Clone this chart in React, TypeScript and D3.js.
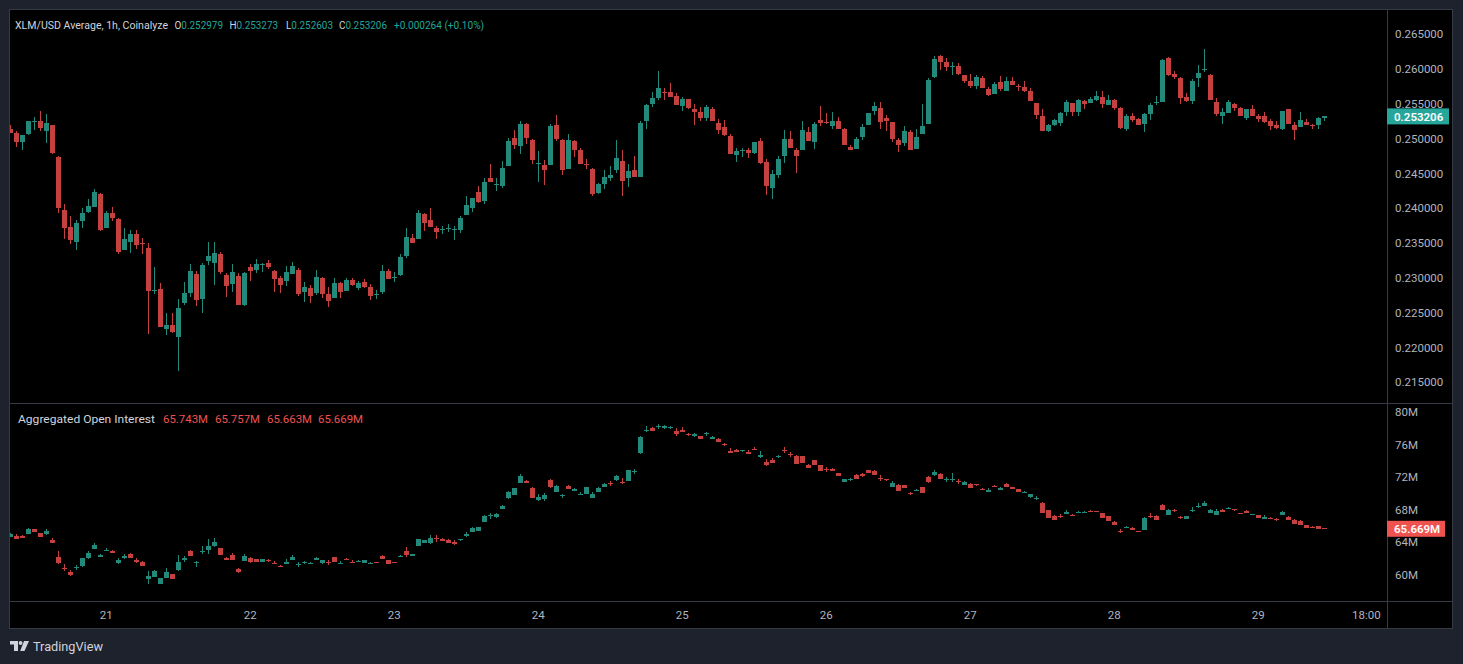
import * as d3 from 'd3';

// XLM/USD 1h candles, 20th 08:00 -> 29th 11:00 (one row = 10 hours)
const priceOpen = [
  0.25139, 0.25080, 0.24950, 0.25067, 0.25250, 0.25250, 0.25110, 0.25197, 0.24737, 0.23975,
  0.23730, 0.23515, 0.23817, 0.23947, 0.24019, 0.24205, 0.23717, 0.23930, 0.23846, 0.23400,
  0.23515, 0.23630, 0.23506, 0.23429, 0.22820, 0.22840, 0.22265, 0.22323, 0.22150, 0.22639,
  0.22780, 0.23056, 0.22696, 0.23242, 0.23214, 0.23343, 0.23041, 0.22912, 0.23027, 0.22610,
  0.23156, 0.23113, 0.23194, 0.23214, 0.23099, 0.22998, 0.22955, 0.23056, 0.23113, 0.22797,
  0.22854, 0.22783, 0.22998, 0.22768, 0.22711, 0.22926, 0.22812, 0.22970, 0.22855, 0.22940,
  0.22869, 0.22764, 0.22797, 0.23099, 0.23010, 0.23042, 0.23315, 0.23573, 0.23559, 0.23918,
  0.23832, 0.23717, 0.23693, 0.23712, 0.23698, 0.23688, 0.23904, 0.24004, 0.24234, 0.24105,
  0.24435, 0.24344, 0.24320, 0.24608, 0.25010, 0.24895, 0.25211, 0.24981, 0.24641, 0.24622,
  0.24622, 0.25197, 0.24981, 0.24565, 0.24967, 0.24838, 0.24641, 0.24565, 0.24220, 0.24349,
  0.24435, 0.24550, 0.24680, 0.24435, 0.24550, 0.24450, 0.25254, 0.25499, 0.25585, 0.25671,
  0.25671, 0.25613, 0.25470, 0.25570, 0.25426, 0.25383, 0.25297, 0.25426, 0.25225, 0.25168,
  0.25039, 0.24766, 0.24833, 0.24837, 0.24794, 0.24967, 0.24665, 0.24291, 0.24478, 0.24751,
  0.24995, 0.24837, 0.24837, 0.25096, 0.24952, 0.25268, 0.25244, 0.25182, 0.25254, 0.25139,
  0.24880, 0.24852, 0.25024, 0.25197, 0.25398, 0.25441, 0.25297, 0.25240, 0.24981, 0.24938,
  0.25096, 0.24852, 0.25067, 0.25210, 0.25886, 0.26188, 0.26102, 0.26040, 0.26044, 0.25915,
  0.25829, 0.25757, 0.25872, 0.25714, 0.25642, 0.25814, 0.25685, 0.25829, 0.25762, 0.25743,
  0.25685, 0.25513, 0.25326, 0.25110, 0.25197, 0.25225, 0.25383, 0.25513, 0.25383, 0.25541,
  0.25513, 0.25556, 0.25599, 0.25484, 0.25556, 0.25441, 0.25139, 0.25326, 0.25283, 0.25210,
  0.25355, 0.25522, 0.25527, 0.26159, 0.25929, 0.25872, 0.25599, 0.25541, 0.25872, 0.25977,
  0.25915, 0.25527, 0.25326, 0.25369, 0.25498, 0.25441, 0.25297, 0.25426, 0.25326, 0.25326,
  0.25254, 0.25197, 0.25139, 0.25426, 0.25197, 0.25168, 0.25240, 0.25201, 0.25197, 0.252979,
];
const priceHigh = [
  0.25197, 0.25111, 0.25050, 0.25250, 0.25312, 0.25398, 0.25355, 0.25200, 0.24751, 0.24062,
  0.23890, 0.23832, 0.24004, 0.24133, 0.24277, 0.24220, 0.23960, 0.24019, 0.23860, 0.23717,
  0.23688, 0.23688, 0.23573, 0.23501, 0.23156, 0.22926, 0.22495, 0.22495, 0.22696, 0.22941,
  0.23199, 0.23100, 0.23214, 0.23515, 0.23515, 0.23372, 0.23070, 0.23199, 0.23070, 0.23084,
  0.23199, 0.23271, 0.23214, 0.23257, 0.23113, 0.23027, 0.23170, 0.23228, 0.23142, 0.22941,
  0.22898, 0.23113, 0.23013, 0.22869, 0.22998, 0.22940, 0.22998, 0.22998, 0.22955, 0.22984,
  0.22912, 0.22826, 0.23185, 0.23128, 0.23085, 0.23343, 0.23717, 0.23631, 0.23976, 0.23928,
  0.24004, 0.23746, 0.23746, 0.23774, 0.23746, 0.23889, 0.24177, 0.24148, 0.24320, 0.24435,
  0.24637, 0.24435, 0.24680, 0.25010, 0.25125, 0.25254, 0.25226, 0.24996, 0.24823, 0.24694,
  0.25211, 0.25341, 0.24996, 0.25068, 0.24981, 0.24866, 0.24708, 0.24580, 0.24364, 0.24550,
  0.24608, 0.24981, 0.24838, 0.24637, 0.24751, 0.25254, 0.25499, 0.25671, 0.25973, 0.25729,
  0.25800, 0.25656, 0.25599, 0.25570, 0.25498, 0.25455, 0.25484, 0.25455, 0.25283, 0.25268,
  0.25067, 0.24866, 0.24866, 0.24866, 0.24952, 0.25010, 0.24708, 0.24550, 0.24751, 0.25125,
  0.25110, 0.24866, 0.25254, 0.25168, 0.25240, 0.25470, 0.25369, 0.25383, 0.25311, 0.25153,
  0.24909, 0.25024, 0.25211, 0.25369, 0.25527, 0.25527, 0.25340, 0.25240, 0.25010, 0.25182,
  0.25125, 0.25139, 0.25498, 0.25872, 0.26188, 0.26202, 0.26159, 0.26102, 0.26087, 0.25915,
  0.25929, 0.25915, 0.25901, 0.25743, 0.25814, 0.25901, 0.25886, 0.25886, 0.25786, 0.25829,
  0.25728, 0.25513, 0.25426, 0.25211, 0.25283, 0.25383, 0.25556, 0.25513, 0.25570, 0.25556,
  0.25599, 0.25685, 0.25685, 0.25628, 0.25570, 0.25455, 0.25355, 0.25369, 0.25297, 0.25369,
  0.25513, 0.25613, 0.26145, 0.26174, 0.25973, 0.25886, 0.25656, 0.25858, 0.26059, 0.26290,
  0.25929, 0.25585, 0.25441, 0.25556, 0.25513, 0.25455, 0.25426, 0.25484, 0.25355, 0.25383,
  0.25283, 0.25254, 0.25398, 0.25426, 0.25240, 0.25383, 0.25283, 0.25210, 0.25311, 0.253273,
];
const priceLow = [
  0.25082, 0.24880, 0.24837, 0.25050, 0.25125, 0.25111, 0.24938, 0.24780, 0.23932, 0.23559,
  0.23487, 0.23401, 0.23717, 0.23932, 0.24019, 0.23674, 0.23717, 0.23817, 0.23343, 0.23400,
  0.23357, 0.23415, 0.23343, 0.22193, 0.22768, 0.22294, 0.22179, 0.22208, 0.21662, 0.22610,
  0.22725, 0.22596, 0.22495, 0.23185, 0.22898, 0.23056, 0.22725, 0.22797, 0.22610, 0.22596,
  0.22955, 0.23070, 0.23084, 0.23127, 0.22797, 0.22783, 0.22883, 0.23056, 0.22739, 0.22653,
  0.22639, 0.22754, 0.22711, 0.22581, 0.22711, 0.22710, 0.22810, 0.22883, 0.22826, 0.22855,
  0.22682, 0.22697, 0.22768, 0.22984, 0.22940, 0.23027, 0.23286, 0.23501, 0.23559, 0.23674,
  0.23731, 0.23559, 0.23631, 0.23659, 0.23544, 0.23645, 0.23904, 0.23947, 0.24076, 0.24062,
  0.24378, 0.24249, 0.24292, 0.24608, 0.24852, 0.24780, 0.24924, 0.24637, 0.24378, 0.24335,
  0.24622, 0.24967, 0.24478, 0.24565, 0.24737, 0.24637, 0.24565, 0.24177, 0.24205, 0.24277,
  0.24392, 0.24507, 0.24177, 0.24306, 0.24450, 0.24450, 0.25139, 0.25456, 0.25556, 0.25556,
  0.25599, 0.25484, 0.25398, 0.25426, 0.25197, 0.25254, 0.25254, 0.25254, 0.25067, 0.25039,
  0.24780, 0.24665, 0.24737, 0.24722, 0.24780, 0.24636, 0.24191, 0.24133, 0.24435, 0.24651,
  0.24866, 0.24507, 0.24837, 0.24967, 0.24852, 0.25182, 0.25210, 0.25139, 0.25139, 0.24909,
  0.24837, 0.24852, 0.24981, 0.25197, 0.25340, 0.25139, 0.25110, 0.24952, 0.24809, 0.24895,
  0.24837, 0.24852, 0.25067, 0.25210, 0.25872, 0.25987, 0.25973, 0.25915, 0.25915, 0.25800,
  0.25728, 0.25714, 0.25728, 0.25613, 0.25642, 0.25685, 0.25685, 0.25771, 0.25685, 0.25671,
  0.25541, 0.25283, 0.25110, 0.25096, 0.25182, 0.25182, 0.25326, 0.25326, 0.25326, 0.25426,
  0.25513, 0.25541, 0.25441, 0.25484, 0.25412, 0.25139, 0.25110, 0.25240, 0.25197, 0.25096,
  0.25268, 0.25484, 0.25527, 0.25901, 0.25858, 0.25498, 0.25527, 0.25498, 0.25743, 0.25958,
  0.25556, 0.25326, 0.25211, 0.25369, 0.25398, 0.25326, 0.25268, 0.25326, 0.25240, 0.25225,
  0.25125, 0.25139, 0.25125, 0.25210, 0.24981, 0.25168, 0.25197, 0.25139, 0.25139, 0.252603,
];
const priceClose = [
  0.25082, 0.24952, 0.25053, 0.25254, 0.25260, 0.25154, 0.25226, 0.24794, 0.24009, 0.23717,
  0.23544, 0.23789, 0.23932, 0.24033, 0.24234, 0.23688, 0.23932, 0.23860, 0.23372, 0.23559,
  0.23630, 0.23472, 0.23496, 0.22810, 0.22830, 0.22294, 0.22323, 0.22222, 0.22567, 0.22783,
  0.23099, 0.22682, 0.23185, 0.23314, 0.23357, 0.23084, 0.22883, 0.23084, 0.22610, 0.23070,
  0.23099, 0.23199, 0.23204, 0.23156, 0.22984, 0.22898, 0.23084, 0.23170, 0.22768, 0.22869,
  0.22739, 0.23013, 0.22768, 0.22668, 0.22926, 0.22797, 0.22970, 0.22898, 0.22926, 0.22869,
  0.22740, 0.22773, 0.23099, 0.22984, 0.23020, 0.23302, 0.23588, 0.23501, 0.23932, 0.23789,
  0.23731, 0.23659, 0.23702, 0.23722, 0.23707, 0.23861, 0.24047, 0.24148, 0.24090, 0.24378,
  0.24378, 0.24354, 0.24579, 0.24967, 0.24910, 0.25211, 0.25010, 0.24694, 0.24651, 0.24550,
  0.25183, 0.24996, 0.24550, 0.24981, 0.24838, 0.24637, 0.24632, 0.24205, 0.24349, 0.24450,
  0.24478, 0.24723, 0.24392, 0.24536, 0.24450, 0.25226, 0.25484, 0.25585, 0.25729, 0.25662,
  0.25599, 0.25484, 0.25570, 0.25441, 0.25383, 0.25297, 0.25455, 0.25254, 0.25125, 0.25053,
  0.24780, 0.24823, 0.24842, 0.24794, 0.24952, 0.24651, 0.24320, 0.24492, 0.24708, 0.24995,
  0.24866, 0.24751, 0.25125, 0.24967, 0.25211, 0.25225, 0.25235, 0.25254, 0.25139, 0.24909,
  0.24837, 0.24995, 0.25168, 0.25369, 0.25470, 0.25240, 0.25254, 0.24995, 0.24909, 0.25110,
  0.24837, 0.25024, 0.25182, 0.25843, 0.26145, 0.26102, 0.26030, 0.26050, 0.25929, 0.25829,
  0.25757, 0.25886, 0.25728, 0.25628, 0.25786, 0.25714, 0.25829, 0.25771, 0.25752, 0.25685,
  0.25541, 0.25340, 0.25110, 0.25197, 0.25268, 0.25369, 0.25527, 0.25383, 0.25556, 0.25498,
  0.25570, 0.25613, 0.25498, 0.25556, 0.25441, 0.25153, 0.25326, 0.25268, 0.25197, 0.25355,
  0.25484, 0.25532, 0.26131, 0.25915, 0.25886, 0.25585, 0.25541, 0.25829, 0.25944, 0.25997,
  0.25556, 0.25355, 0.25383, 0.25527, 0.25441, 0.25326, 0.25426, 0.25326, 0.25283, 0.25240,
  0.25182, 0.25153, 0.25398, 0.25210, 0.25125, 0.25268, 0.25197, 0.25192, 0.252942, 0.253206,
];

// Aggregated open interest, millions, same hours
const oiOpen = [
  64.66, 64.79, 64.83, 65.03, 65.64, 65.15, 65.03, 64.29, 62.21, 60.86,
  60.37, 60.90, 61.10, 62.09, 63.19, 62.21, 63.03, 62.94, 61.47, 62.09,
  62.58, 61.84, 61.59, 59.51, 59.75, 58.90, 59.63, 60.12, 60.61, 61.84,
  62.94, 61.55, 62.86, 63.07, 63.56, 63.31, 62.09, 62.45, 60.74, 61.72,
  62.09, 61.96, 61.59, 61.88, 61.51, 61.14, 61.35, 61.84, 61.27, 61.51,
  61.39, 61.84, 61.47, 61.64, 62.21, 61.43, 62.00, 61.64, 61.68, 61.47,
  61.43, 61.59, 62.33, 61.84, 61.59, 62.29, 62.94, 62.33, 63.56, 63.93,
  63.93, 64.58, 64.42, 64.29, 64.05, 64.29, 64.79, 65.28, 65.40, 66.50,
  67.24, 67.12, 68.10, 69.45, 69.82, 71.29, 71.53, 70.67, 69.20, 69.33,
  71.66, 70.18, 69.69, 70.92, 70.31, 69.86, 69.94, 69.45, 70.18, 70.80,
  71.29, 71.66, 71.41, 71.53, 72.68, 74.97, 77.75, 78.04, 78.16, 78.04,
  78.08, 77.67, 77.79, 77.30, 77.06, 77.06, 77.38, 76.69, 76.69, 76.07,
  75.21, 75.34, 75.26, 75.09, 75.46, 74.48, 73.87, 74.11, 74.52, 75.38,
  74.89, 74.60, 74.60, 73.50, 74.11, 73.50, 72.97, 73.01, 72.52, 71.41,
  71.70, 72.27, 72.39, 72.88, 72.76, 71.90, 71.78, 70.80, 71.04, 71.04,
  70.10, 70.39, 70.80, 72.02, 72.27, 72.39, 71.70, 71.70, 71.57, 71.04,
  71.17, 71.17, 70.59, 70.18, 70.96, 70.43, 71.17, 70.80, 70.55, 70.14,
  69.57, 69.41, 68.83, 67.97, 67.24, 67.24, 67.48, 67.36, 67.69, 67.69,
  67.85, 67.85, 67.61, 67.24, 66.50, 65.40, 65.85, 65.77, 65.40, 65.52,
  67.24, 67.24, 68.59, 67.36, 67.97, 67.16, 66.87, 67.94, 68.42, 68.47,
  67.61, 67.36, 67.97, 68.18, 68.10, 67.61, 67.85, 67.40, 67.36, 66.87,
  67.03, 66.87, 67.36, 67.12, 66.75, 66.63, 66.14, 65.89, 66.01, 65.743,
];
const oiHigh = [
  65.19, 65.03, 64.95, 65.77, 65.64, 65.15, 65.64, 64.54, 62.94, 61.35,
  60.61, 61.23, 62.09, 62.94, 63.93, 62.58, 63.31, 63.07, 62.09, 62.58,
  62.70, 62.09, 61.72, 60.49, 60.61, 59.63, 60.86, 60.12, 62.45, 62.33,
  63.07, 61.72, 63.56, 64.42, 64.54, 63.31, 62.21, 62.70, 60.86, 62.58,
  62.21, 61.96, 61.96, 61.96, 61.72, 61.23, 61.96, 62.45, 61.59, 61.72,
  61.59, 62.21, 61.84, 61.84, 62.21, 61.72, 62.09, 61.84, 61.84, 61.84,
  61.59, 61.59, 62.45, 61.84, 61.59, 62.45, 63.44, 62.58, 64.42, 64.29,
  64.91, 64.91, 64.54, 64.42, 64.30, 64.42, 65.28, 65.89, 65.89, 67.36,
  67.61, 67.61, 68.59, 70.31, 70.67, 72.39, 71.66, 70.80, 69.94, 70.06,
  71.78, 71.04, 69.94, 71.04, 70.67, 70.18, 70.80, 70.18, 70.80, 71.29,
  71.53, 72.27, 71.90, 72.88, 73.01, 77.06, 78.28, 78.16, 78.53, 78.40,
  78.28, 78.04, 78.16, 77.42, 77.42, 77.06, 77.55, 77.06, 76.81, 76.20,
  75.58, 75.46, 75.34, 75.34, 75.71, 75.21, 74.23, 74.36, 74.72, 75.71,
  75.09, 74.72, 74.60, 73.62, 74.11, 73.50, 73.25, 73.13, 72.52, 71.78,
  71.90, 72.39, 72.52, 72.88, 72.88, 72.27, 71.78, 71.53, 71.17, 71.04,
  70.18, 70.55, 70.80, 72.15, 72.88, 72.52, 72.02, 72.52, 71.78, 71.53,
  71.29, 71.17, 70.67, 70.67, 71.04, 70.80, 71.29, 70.80, 70.55, 70.31,
  69.94, 69.69, 68.96, 67.97, 67.36, 67.48, 67.97, 67.48, 67.85, 67.85,
  67.97, 67.85, 67.61, 67.24, 66.63, 65.64, 66.01, 65.89, 65.40, 67.12,
  67.61, 67.36, 68.71, 68.10, 68.10, 67.24, 67.24, 68.34, 68.83, 69.08,
  68.10, 68.10, 68.10, 68.34, 68.10, 67.61, 67.97, 67.48, 67.36, 67.36,
  67.12, 66.99, 67.85, 67.24, 66.87, 66.75, 66.14, 66.01, 66.01, 65.757,
];
const oiLow = [
  64.66, 64.42, 64.58, 65.03, 65.28, 64.66, 64.91, 63.93, 61.35, 60.49,
  59.88, 60.61, 60.98, 61.96, 63.19, 62.21, 62.94, 62.70, 61.35, 61.96,
  62.09, 61.47, 61.10, 58.90, 59.75, 58.90, 59.63, 59.51, 60.49, 61.59,
  62.33, 60.98, 62.58, 62.58, 63.44, 62.45, 61.84, 61.84, 60.25, 61.72,
  61.47, 61.59, 61.59, 61.59, 61.35, 60.98, 61.35, 61.84, 60.98, 61.35,
  61.35, 61.84, 61.35, 61.23, 61.59, 61.35, 61.84, 61.47, 61.59, 61.47,
  61.35, 61.51, 61.96, 61.35, 61.51, 62.21, 62.21, 62.33, 63.56, 63.93,
  63.80, 64.05, 64.17, 63.93, 63.68, 64.17, 64.66, 65.28, 65.40, 66.50,
  66.87, 66.99, 68.10, 69.33, 69.82, 71.29, 71.29, 69.45, 69.08, 69.08,
  70.67, 70.18, 69.45, 70.55, 70.31, 69.82, 69.94, 69.45, 70.18, 70.80,
  70.92, 71.53, 71.17, 71.53, 72.39, 74.85, 77.55, 77.67, 77.91, 77.91,
  77.91, 77.05, 77.55, 77.06, 76.93, 76.69, 77.06, 76.69, 76.32, 75.83,
  74.97, 75.09, 75.09, 74.85, 75.34, 74.36, 73.37, 73.74, 74.36, 74.97,
  74.48, 73.62, 73.74, 73.13, 73.50, 72.76, 72.64, 72.76, 72.15, 71.41,
  71.53, 71.78, 72.02, 72.51, 72.27, 71.53, 71.53, 70.80, 70.31, 70.67,
  69.82, 70.31, 70.06, 71.29, 72.15, 71.78, 71.41, 71.41, 71.17, 71.04,
  70.67, 70.92, 70.43, 70.18, 70.80, 70.43, 70.80, 70.55, 70.18, 70.06,
  69.45, 69.20, 67.61, 66.99, 66.75, 66.99, 67.48, 67.24, 67.61, 67.61,
  67.73, 67.73, 66.99, 66.63, 66.14, 65.15, 65.77, 65.52, 65.28, 65.52,
  66.99, 66.75, 67.97, 67.36, 67.73, 66.87, 66.87, 67.73, 68.22, 68.47,
  67.61, 67.36, 67.73, 68.10, 67.85, 67.49, 67.61, 67.36, 66.99, 66.87,
  66.87, 66.63, 67.36, 66.75, 66.26, 66.14, 65.77, 65.77, 65.64, 65.663,
];
const oiClose = [
  65.07, 64.42, 64.58, 65.64, 65.28, 64.66, 65.40, 63.93, 61.47, 60.78,
  60.00, 60.98, 62.09, 62.70, 63.68, 62.46, 63.11, 62.70, 61.84, 62.33,
  62.09, 61.59, 61.10, 59.88, 60.49, 59.63, 60.37, 59.51, 61.59, 62.09,
  62.33, 61.64, 62.94, 63.56, 64.05, 62.45, 61.84, 61.84, 60.37, 62.33,
  61.59, 61.59, 61.96, 61.80, 61.43, 61.06, 61.59, 62.21, 61.35, 61.59,
  61.47, 62.09, 61.84, 61.55, 61.59, 61.51, 61.92, 61.55, 61.76, 61.84,
  61.51, 61.51, 61.96, 61.35, 61.51, 62.37, 62.45, 62.58, 64.42, 64.29,
  64.54, 64.50, 64.17, 63.93, 63.80, 64.38, 65.03, 65.77, 65.89, 67.24,
  67.32, 67.48, 68.47, 70.18, 70.67, 72.15, 71.29, 69.45, 69.57, 69.82,
  70.80, 70.92, 69.77, 70.55, 70.55, 69.94, 70.80, 69.94, 70.67, 71.17,
  71.21, 72.15, 71.33, 72.88, 72.76, 76.93, 77.83, 77.67, 78.24, 78.28,
  78.16, 77.30, 77.55, 77.22, 77.30, 76.69, 77.46, 76.93, 76.32, 75.99,
  74.97, 75.09, 75.34, 74.85, 75.34, 74.72, 73.50, 73.74, 74.60, 75.30,
  74.81, 73.62, 73.74, 73.13, 73.50, 72.76, 72.88, 72.76, 72.15, 71.78,
  71.78, 71.78, 72.15, 72.51, 72.27, 71.82, 71.70, 71.29, 70.31, 70.67,
  70.02, 70.47, 70.06, 71.41, 72.64, 71.78, 71.78, 71.78, 71.49, 71.41,
  70.67, 71.08, 70.51, 70.43, 70.88, 70.67, 70.80, 70.55, 70.18, 70.23,
  69.94, 69.49, 67.61, 66.99, 66.75, 67.16, 67.73, 67.28, 67.77, 67.77,
  67.77, 67.77, 66.99, 66.63, 66.14, 65.32, 65.93, 65.52, 65.36, 66.99,
  67.16, 66.75, 67.97, 67.97, 67.89, 67.08, 67.24, 68.02, 68.47, 68.83,
  67.97, 67.85, 67.73, 68.26, 68.02, 67.53, 67.61, 67.48, 66.99, 67.12,
  66.95, 66.79, 67.73, 66.75, 66.26, 66.14, 65.77, 65.81, 65.64, 65.669,
];

const priceTicks = [0.215, 0.22, 0.225, 0.23, 0.235, 0.24, 0.245, 0.25, 0.255, 0.26, 0.265];
const oiTicks = [60, 64, 68, 72, 76, 80];
const timeTickLabels = ['21', '22', '23', '24', '25', '26', '27', '28', '29', '18:00'];
const timeTickDates = [
  Date.UTC(2024, 1, 21), Date.UTC(2024, 1, 22), Date.UTC(2024, 1, 23), Date.UTC(2024, 1, 24),
  Date.UTC(2024, 1, 25), Date.UTC(2024, 1, 26), Date.UTC(2024, 1, 27), Date.UTC(2024, 1, 28),
  Date.UTC(2024, 1, 29), Date.UTC(2024, 1, 29, 18),
];
const firstCandle = Date.UTC(2024, 1, 20, 8);
const HOUR = 3600 * 1000;

const W = 1463;
const H = 664;
const LEFT = 10;
const AXIS_X = 1387;
const RIGHT = 1452;
const TOP = 10;
const SPLIT = 403;
const TIME_TOP = 601;
const BOTTOM = 628;

const UP = '#22897b';
const DOWN = '#c5413f';
const LINE = '#363a45';
const AXIS_TEXT = '#b2b5be';
const FONT = 'Roboto, "Noto Sans", sans-serif';

const x = d3.scaleUtc()
  .domain([new Date(Date.UTC(2024, 1, 21)), new Date(Date.UTC(2024, 1, 29))])
  .range([106.3, 1258.3]);
const yPrice = d3.scaleLinear().domain([0.215, 0.265]).range([382.3, 34.3]);
const yOi = d3.scaleLinear().domain([60, 80]).range([575, 412]);

type CandleProps = {
  o: number[]; h: number[]; l: number[]; c: number[];
  y: d3.ScaleLinear<number, number>;
};

const Candles = ({ o, h, l, c, y }: CandleProps) => (
  <g shapeRendering="crispEdges">
    {o.map((open, i) => {
      const cx = Math.round(x(new Date(firstCandle + i * HOUR)));
      const color = c[i] >= open ? UP : DOWN;
      const yo = y(open);
      const yc = y(c[i]);
      const top = Math.round(Math.min(yo, yc));
      const hgt = Math.max(1, Math.round(Math.abs(yo - yc)));
      return (
        <g key={i}>
          <rect x={cx} y={Math.round(y(h[i]))} width={1}
            height={Math.max(1, Math.round(y(l[i]) - y(h[i])))} fill={color} />
          <rect x={cx - 2} y={top} width={5} height={hgt} fill={color} />
        </g>
      );
    })}
  </g>
);

const LABEL = '#d1d4dc';
const TEAL = '#26a69a';
const RED = '#ef5350';

// "O0.252979"-style legend item: letter in grey, value in teal, squeezed to the reference width
const Ohlc = ({ x0, w, letter, value }: { x0: number; w: number; letter: string; value: string }) => (
  <text x={x0} y={29} textLength={w} lengthAdjust="spacingAndGlyphs">
    <tspan fill={LABEL}>{letter}</tspan>
    <tspan fill={TEAL}>{value}</tspan>
  </text>
);

const App = () => {
  const last = priceClose.length - 1;
  const change = priceClose[last] - priceClose[last - 1];
  const changePct = (change / priceClose[last - 1]) * 100;
  const fmtM = (v: number) => v.toFixed(3) + 'M';

  return (
    <svg width={W} height={H} style={{ position: 'fixed', left: 0, top: 0, display: 'block' }}
      fontFamily={FONT}>
      <defs>
        <clipPath id="pricePane"><rect x={LEFT} y={TOP} width={AXIS_X - LEFT} height={SPLIT - TOP} /></clipPath>
        <clipPath id="oiPane"><rect x={LEFT} y={SPLIT} width={AXIS_X - LEFT} height={TIME_TOP - SPLIT} /></clipPath>
      </defs>
      <rect width={W} height={H} fill="#1e222d" />
      <rect x={LEFT} y={TOP} width={RIGHT - LEFT} height={BOTTOM - TOP} fill="#000" />

      <g clipPath="url(#pricePane)">
        <Candles o={priceOpen} h={priceHigh} l={priceLow} c={priceClose} y={yPrice} />
      </g>
      <g clipPath="url(#oiPane)">
        <Candles o={oiOpen} h={oiHigh} l={oiLow} c={oiClose} y={yOi} />
      </g>

      {/* frame and separators */}
      <g stroke={LINE} strokeWidth={1} fill="none" shapeRendering="crispEdges">
        <rect x={LEFT - 0.5} y={TOP - 0.5} width={RIGHT - LEFT + 1} height={BOTTOM - TOP + 1} />
        <line x1={AXIS_X + 0.5} x2={AXIS_X + 0.5} y1={TOP} y2={BOTTOM} />
        <line x1={LEFT} x2={RIGHT} y1={SPLIT + 0.5} y2={SPLIT + 0.5} />
        <line x1={LEFT} x2={RIGHT} y1={TIME_TOP + 0.5} y2={TIME_TOP + 0.5} />
      </g>

      {/* axes */}
      <g fill={AXIS_TEXT} fontSize={11.5}>
        {priceTicks.map((t) => (
          <text key={t} x={1395} y={yPrice(t)} dy="0.35em">{t.toFixed(6)}</text>
        ))}
        {oiTicks.map((t) => (
          <text key={t} x={1395} y={yOi(t)} dy="0.35em">{t}M</text>
        ))}
        {timeTickLabels.map((lab, i) => (
          <text key={lab} x={x(new Date(timeTickDates[i]))} y={615} dy="0.35em" textAnchor="middle">{lab}</text>
        ))}
      </g>

      {/* last value labels */}
      <g>
        <rect x={AXIS_X} y={yPrice(priceClose[last]) - 8} width={62} height={16} fill={TEAL} />
        <text x={1394} y={yPrice(priceClose[last])} dy="0.36em" fontSize={11.5} fill="#fff" fontWeight={600}>
          {priceClose[last].toFixed(6)}
        </text>
        <rect x={AXIS_X} y={yOi(oiClose[last]) - 8} width={58} height={16} fill={RED} />
        <text x={1394} y={yOi(oiClose[last])} dy="0.36em" fontSize={11.5} fill="#fff" fontWeight={600}>
          {fmtM(oiClose[last])}
        </text>
      </g>

      {/* legends */}
      <g fontSize={11.5}>
        <text x={15} y={29} fill={LABEL} fontSize={10.6} textLength={153} lengthAdjust="spacingAndGlyphs">
          XLM/USD Average, 1h, Coinalyze
        </text>
        <Ohlc x0={174.5} w={48.5} letter="O" value={priceOpen[last].toFixed(6)} />
        <Ohlc x0={229.5} w={48.5} letter="H" value={priceHigh[last].toFixed(6)} />
        <Ohlc x0={286} w={47} letter="L" value={priceLow[last].toFixed(6)} />
        <Ohlc x0={339} w={48} letter="C" value={priceClose[last].toFixed(6)} />
        <text x={394} y={29} fill={TEAL} textLength={90} lengthAdjust="spacingAndGlyphs">
          {`${change >= 0 ? '+' : ''}${change.toFixed(6)} (${changePct >= 0 ? '+' : ''}${changePct.toFixed(2)}%)`}
        </text>

        <text x={18} y={423} fill={LABEL} textLength={137} lengthAdjust="spacingAndGlyphs">Aggregated Open Interest</text>
        {[oiOpen[last], oiHigh[last], oiLow[last], oiClose[last]].map((v, i) => (
          <text key={i} x={[163, 215, 267, 318][i]} y={423} fill={RED} textLength={45} lengthAdjust="spacingAndGlyphs">
            {fmtM(v)}
          </text>
        ))}
      </g>

      {/* TradingView mark */}
      <g fill={LABEL}>
        <path d="M10 641 H18 V651 H14 V644.5 H10 Z" />
        <circle cx={20.6} cy={643} r={1.9} />
        <path d="M24 641 H29 L24.5 651 H20.2 Z" />
        <text x={33} y={651} fontSize={13.5} textLength={70} lengthAdjust="spacingAndGlyphs">TradingView</text>
      </g>
    </svg>
  );
};

export default App;
